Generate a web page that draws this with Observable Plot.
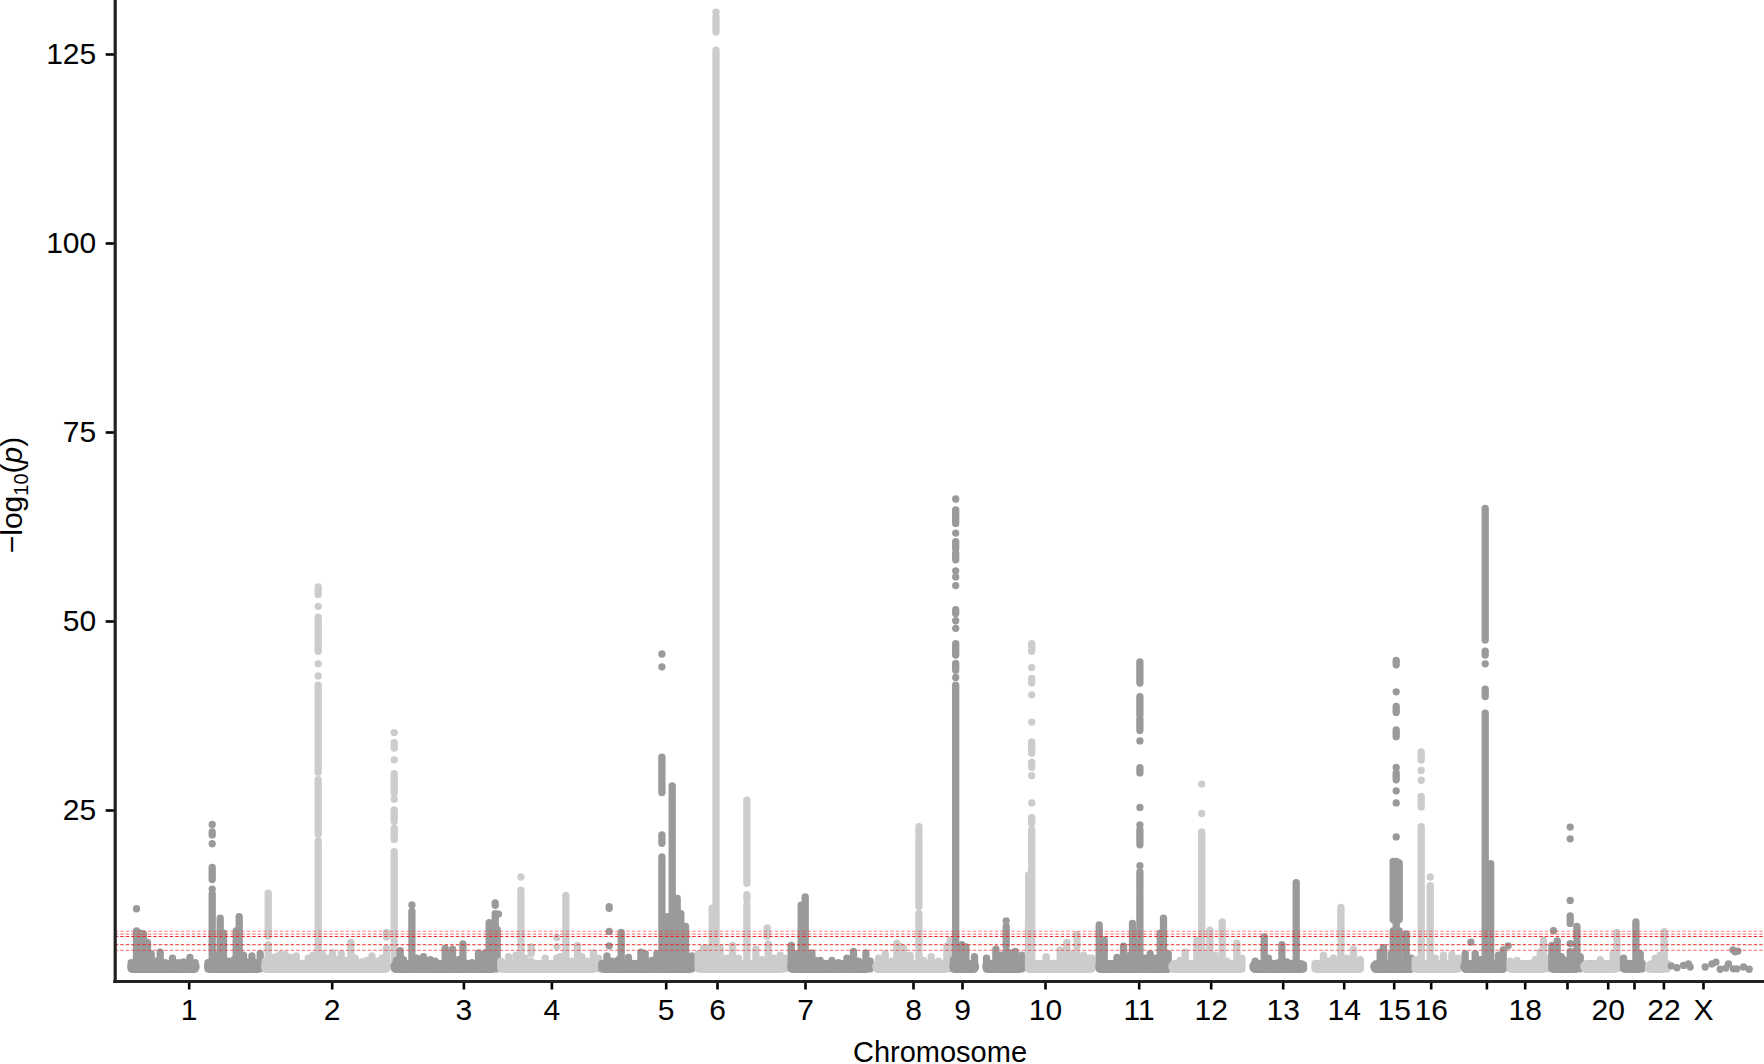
<!DOCTYPE html>
<html><head><meta charset="utf-8">
<style>html,body{margin:0;padding:0;background:#fff}svg{display:block}</style>
<script src="https://cdn.jsdelivr.net/npm/d3@7"></script>
<script src="https://cdn.jsdelivr.net/npm/@observablehq/plot@0.6"></script>
</head><body><div id="chart"></div>
<script>
const dark="#999a99", light="#cccccc";
const tickPos=[74,217,348.7,436.7,551,602.3,690.3,798.3,847.3,930.3,1024,1096,1168,1229,1279,1316,1371.7,1410,1452.3,1493,1519.3,1548.7,1588.3];
const tickLab=["1","2","3","4","5","6","7","8","9","10","11","12","13","14","15","16","","18","","20","","22","X"];
const yTicks=[25,50,75,100,125];
const faintLines=[9.03,8.64,6.5];
const strongLines=[8.33,7.25];

// each row: [position, low, high]; low===high is a single point
const chr1Base=[[19,78.5],[96,142]];
const chr1=[[16,4,4.8],[21.3,4,9],[21.3,12,12],[25,4,8.7],[28.3,4,8.6],[32.3,4,7.5],[36,4,6],[40,4,5],[45,4,6.2],[50,4,4.8],[57.3,4,5.4],[63.3,4,4.8],[68.3,4,4.9],[74.7,4,5.5],[80,4,4.8],
[92.7,4,4.8],[97,4,13.9],[97,14.6,14.6],[97,15.8,17.4],[97,20.6,20.6],[97,21.7,22.1],[97,23.15,23.15],[100,4,5.8],[105,4,10.7],[108.3,4,8.7],[113.3,4,5],[119,4,5.2],[121,4,9],[124,4,10.9],[128.3,4,5.8],[131.7,4,4.9],[136.7,4,5.7],[140,4,4.8],[145,4,6]];
const chr2Base=[[153,269]];
const chr2=[[150,4,5],[153,4,7.2],[153,8.3,14],[160,4,5.6],[165,4,5.9],[170,4,5.9],[175,4,5.5],[181,4,5.7],[186.7,4,4.7],[193,4,5.4],[198,4,5.8],
[203,4,20.9],[203,21.8,29],[203,30,41.5],[203,42.8,42.8],[203,44.4,44.4],[203,46,50.5],[203,52,52],[203,53.5,54.5],[207,4,6],[212,4,5.4],[217.3,4,6.1],[221.7,4,5.2],[226,4,6],[231,4,5.1],[235.7,4,7.5],[240,4,5.4],[246.7,4,4.9],[251.7,4,5.1],[256.7,4,5.7],[261.7,4,5],[266.7,4,5.4],[271.3,4,6.7],[271.3,8.2,8.8],
[279,4,19.5],[279,21.1,22.6],[279,23.5,25],[279,26.5,26.5],[279,27.2,29.8],[279,31.7,31.7],[279,33.2,33.9],[279,35.3,35.3]];
const chr3Base=[[282,376]];
const chr3=[[281.3,4,5.1],[285,4,6.4],[288.3,4,5.2],[296.7,4,11.6],[296.7,12.5,12.5],[301.7,4,5.4],[308.3,4,5.6],[315,4,5.2],[320,4,5],[325,4,4.7],[328.3,4,4.7],
[330,4,6.7],[332.7,4,6],[337.3,4,6.6],[343.3,4,5.2],[347.7,4,7.3],[351.7,4,4.7],[356.7,4,4.8],[363.3,4,6.1],[370,4,6.1],[374,4,10.1],[378,4,9.2],[380,4,11.3],[380,12.4,12.7],[383.3,11.3,11.3],[382,4,9.2]];
const chr4Base=[[389,477]];
const chr4=[[385.7,4,5],[393.3,4,5.6],[400.7,4,5.8],[405.7,4,14.4],[405.7,16.2,16.2],[410,4,5.4],[416,4,5],[416,6,6.9],[420,4,4.7],[430,4,5.4],[441.7,4,5.4],[441.7,7,7],[441.7,8.2,8.2],[445,4,5.6],[450.7,4,13.7],[456.7,4,5],[462.3,4,7.1],[466.7,4,5.6],[471.7,4,5],[478.3,4,6.1],[483.3,4,5.4]];
const chr5Base=[[490,574]];
const chr5=[[486.7,4,4.7],[491.7,4,5.7],[494,7.1,7.1],[494,9,9],[494,12,12.2],[496.7,4,5],[503.3,4,5.2],[506,4,8.8],[513.3,4,5.5],[520,4,4.7],[525.7,4,6.2],[530,4,6],[536.7,4,5.1],[541.7,4,6],
[546.7,4,18.8],[546.7,20.6,21.7],[546.7,27.3,32],[546.7,44,44],[546.7,45.7,45.7],[552,4,10.9],[557,4,28.2],[562,4,13.3],[565.6,4,11.3],[570.3,4,9.6],[576.7,4,5.7]];
const chr6Base=[[587,666]];
const chr6=[[583,4,6],[588.3,4,6.7],[594,4,6.8],[597,4,12],[600.8,4,125.5],[600.8,127.9,129.9],[600.8,130.6,130.6],[605,4,6.7],[611.7,4,5.4],[617.3,4,7.1],[623.3,4,5.4],
[631.7,4,12.4],[631.7,13.1,13.8],[631.7,15.3,20.4],[631.7,20.8,26.3],[640.7,4,6.6],[646.7,4,5.2],[652,8.3,9.4],[653,4,7.3],[658.3,4,5.4],[665,4,5.8],[670,4,5.4]];
const chr7Base=[[679,751]];
const chr7=[[676,4,7.1],[680,4,6],[686,4,12.4],[690,4,13.5],[693.3,4,6],[696.7,4,6.1],[700,4,5.1],[705,4,5.1],[710,4,4.7],[716.7,4,5.1],[723.3,4,4.8],[731.7,4,5.4],[738.3,4,6.3],[743.3,4,5],[750.7,4,6.1],[755,4,5]];
const chr8Base=[[764,829]];
const chr8=[[763.3,4,5.4],[770,4,6],[776.7,4,5],[781.7,4,7.4],[785,4,7],[788.3,4,6.7],[795,4,5.8],[803.7,4,11.3],[803.7,12.2,21.5],[803.7,22.1,22.8],[808.3,4,5.1],[816,4,5.6],[823.3,4,5],[831.7,4,7],[835,4,7.8]];
const chr9Base=[[841,858],[874,904]];
const chr9=[[838.3,4,5.2],[840.5,4,41.5],[840.5,42.6,42.6],[840.5,43.5,44.4],[840.5,45.5,47],[840.5,49.1,49.1],[840.5,50.1,50.1],[840.5,51,51.5],[840.5,54.75,54.75],[840.5,55.9,55.9],[840.5,56.7,56.7],[840.5,58.1,59],[840.5,59.6,60.5],[840.5,61.7,61.7],[840.5,62.9,64.7],[840.5,66.2,66.2],
[846.7,4,7.2],[850.7,4,6.9],[853.3,4,4.7],[859.3,4,5.6],[871.3,4,5.4],[876.7,4,4.7],[880.7,4,6.6],[885,4,5.8],[891,4,6.3],[891,7,9.6],[891,10.4,10.4],[893.3,4,6.2],[900,4,6.3],[906.7,4,5.8]];
const chr10Base=[[917,974]];
const chr10=[[913.3,4,10.2],[913.5,4,16.4],[916.5,4,22.4],[916.5,23.2,24],[916.5,26,26],[916.5,29.6,29.6],[916.5,30.65,31.3],[916.5,32.5,34],[916.5,36.7,36.7],[916.5,40.3,40.3],[916.5,41.8,42.4],[916.5,43.9,43.9],[916.5,46,47],
[923.3,4,4.7],[931,4,5.6],[938.3,4,4.7],[945,4,6.5],[951.7,4,7.5],[956.7,4,6],[961.7,4,6],[961.7,6.9,8.5],[968.3,4,5.8],[973.3,4,5.4],[976.7,4,5.4]];
const chr11Base=[[987,1052]];
const chr11=[[984,4,9.8],[989,4,7.8],[995,4,4.5],[1001.7,4,5.5],[1008.3,4,7],[1013.3,4,5.7],[1017.3,4,10],[1020.7,4,8.7],[1024.7,4,13.8],[1024.7,14.2,16.8],[1024.7,17.7,17.7],[1024.7,20.4,22.4],[1024.7,23.1,23.1],[1024.7,25.4,25.4],[1024.7,29.9,30.6],[1024.7,34.2,34.2],[1024.7,35.5,37],[1024.7,37.5,40],[1024.7,41.8,44.6],
[1030,4,5.4],[1035,4,6],[1040,4,5.4],[1045,4,8.7],[1048.3,4,10.7],[1053,4,6]];
const chr12Base=[[1060,1124]];
const chr12=[[1065,4,5.1],[1070,4,6.2],[1076.7,4,4.7],[1081.7,4,7.8],[1086.5,4,22.1],[1086.5,24.6,24.6],[1086.5,28.5,28.5],[1091,4,6],[1094.7,4,9.1],[1100,4,5.8],[1107,4,10.2],[1111.7,4,5],[1116.7,4,4.7],[1121.7,4,7.4],[1126.7,4,5.4]];
const chr13Base=[[1141,1186]];
const chr13=[[1140,4,5],[1149,4,8.2],[1153.3,4,5.4],[1158.3,4,4.7],[1163.3,4,4.8],[1166.7,4,7.2],[1171.7,4,4.9],[1176.7,4,4.7],[1181,4,15.4],[1188.3,4,4.5]];
const chr14Base=[[1203,1243]];
const chr14=[[1200,4,4.7],[1208.3,4,5.8],[1213.3,4,5],[1218.3,4,5.4],[1225.7,4,12.1],[1231.7,4,5.4],[1238.3,4,6.6],[1245,4,5.2]];
const chr15Base=[[1262,1295]];
const chr15=[[1260,4,4.5],[1265,4,6.2],[1268.3,4,6.8],[1276,4,6],[1278,4,9],[1278,10.5,18.2],[1284,4,9],[1284,10.5,18],[1281,4,18.2],[1281,21.5,21.5],[1281,26,26],[1281,27.6,27.6],[1281,29,29.9],[1281,30.7,30.7],[1281,34.7,35.6],[1281,37.9,38.7],[1281,40.7,40.7],[1281,44.2,44.8],[1291,4,8.6],[1296,4,5.4]];
const chr16Base=[[1304,1340]];
const chr16=[[1300,4,5.2],[1306,4,22.8],[1306,25.4,26.8],[1306,29,29],[1306,30.3,30.3],[1306,31.6,32.7],[1315,4,15],[1315,16.2,16.2],[1320,4,5.4],[1328.3,4,5.8],[1336.7,4,5.9],[1343,4,5.4]];
const chr17Base=[[1352,1387]];
const chr17=[[1350,4,6],[1355.7,7.6,7.6],[1360,4,6],[1365,4,5.2],[1370,4,37.8],[1370,40,41],[1370,44.4,44.4],[1370,45.5,46],[1370,47.5,64.9],[1375.5,4,17.9],[1383.3,4,5.8],[1388,4,6.5],[1393,7.1,7.1]];
const chr18Base=[[1398,1427]];
const chr18=[[1395,4,5],[1401.7,4,5.1],[1408,4,4.5],[1415,4,4.7],[1420,4,5.2],[1425,4,6.2],[1428.3,6.2,7.8],[1431.7,4,5.4]];
const chr19Base=[[1440,1460]];
const chr19=[[1436.7,4,7.1],[1438.3,9.1,9.1],[1442,4,7.7],[1446,4,5.6],[1448.3,4,5.2],[1455,4,6.3],[1455,7.4,7.4],[1455,10,11],[1455,13.1,13.1],[1455,21.25,21.25],[1455,22.8,22.8],[1461.7,4,9.6],[1465,4,5.6]];
const chr20Base=[[1472,1498]];
const chr20=[[1473,4,4.7],[1480,4,4.5],[1485,4,5.2],[1493,4,4.7],[1498,4,6],[1501.7,4,8.8]];
const chr21Base=[[1512,1523]];
const chr21=[[1508.3,4,5.4],[1513.3,4,4.7],[1520.7,4,10.2],[1525,4,6],[1527,4,4.7]];
const chr22Base=[[1537,1547]];
const chr22=[[1533.3,4,4.3],[1540,4,5.4],[1545,4,5.8],[1549,4,8.9],[1552,4,4.7]];
const chrXBase=[];
const chrX=[[1556,4.45,4.45],[1561.7,4.2,4.2],[1568.3,4.5,4.5],[1573.3,4.7,4.7],[1575,4.3,4.3],[1590,4.3,4.3],[1596.7,4.7,4.7],[1600.7,4.94,4.94],[1605,4,4],[1610.7,4.15,4.15],[1613.3,4.7,4.7],[1617.7,6.57,6.57],[1618.3,4.05,4.05],[1620,6.3,6.3],[1621.7,4.05,4.05],[1622.7,6.4,6.4],[1628.3,4.3,4.3],[1634,4,4]];

const order=[[chr1,chr1Base,dark],[chr2,chr2Base,light],[chr3,chr3Base,dark],[chr4,chr4Base,light],[chr5,chr5Base,dark],[chr6,chr6Base,light],[chr7,chr7Base,dark],[chr8,chr8Base,light],[chr9,chr9Base,dark],[chr10,chr10Base,light],[chr11,chr11Base,dark],[chr12,chr12Base,light],[chr13,chr13Base,dark],[chr14,chr14Base,light],[chr15,chr15Base,dark],[chr16,chr16Base,light],[chr17,chr17Base,dark],[chr18,chr18Base,light],[chr19,chr19Base,dark],[chr20,chr20Base,light],[chr21,chr21Base,dark],[chr22,chr22Base,light],[chrX,chrXBase,dark]];

const r=3.65;
const chrMarks=order.flatMap(([rows,base,c])=>[
  Plot.ruleY(base,{x1:d=>d[0],x2:d=>d[1],y:4.36,stroke:c,strokeWidth:13,strokeLinecap:"round"}),
  Plot.ruleX(rows.filter(d=>d[1]!==d[2]),{x:d=>d[0],y1:d=>d[1],y2:d=>d[2],stroke:c,strokeWidth:r*2,strokeLinecap:"round"}),
  Plot.dot(rows.filter(d=>d[1]===d[2]),{x:d=>d[0],y:d=>d[1],r:r,fill:c,stroke:"none"})
]);

const fmt=new Map(tickPos.map((p,i)=>[p,tickLab[i]]));
const svg=Plot.plot({
  width:1764,height:1064,marginTop:0,marginBottom:83,marginLeft:114.7,marginRight:0,
  style:{fontFamily:"'Liberation Sans',Arial,sans-serif",background:"#fff",color:"#000",overflow:"hidden"},
  x:{domain:[0,1649.3]},
  y:{domain:[2.38,132.14]},
  marks:[
    ...chrMarks,
    Plot.ruleY(faintLines,{stroke:"#f23a3a",strokeOpacity:0.6,strokeWidth:1.1,strokeDasharray:"3.5,2"}),
    Plot.ruleY(strongLines,{stroke:"#f01e1e",strokeOpacity:0.95,strokeWidth:1.1,strokeDasharray:"3.5,2"}),
    Plot.axisY({ticks:yTicks,tickSize:9,tickPadding:10,label:null,fontSize:30,stroke:"#000",strokeWidth:2.6,fill:"#000"}),
    Plot.axisX({ticks:tickPos,tickFormat:d=>fmt.get(d),tickSize:8.5,tickPadding:9,label:null,fontSize:30,stroke:"#000",strokeWidth:2.6,fill:"#000"}),
    Plot.ruleX([0],{stroke:"#222",strokeWidth:3.2}),
    Plot.ruleY([2.38],{stroke:"#222",strokeWidth:3.2,x1:-1.6,x2:1649.3})
  ]
});
document.getElementById("chart").appendChild(svg);
const s=d3.select(svg);
s.append("text").attr("x",940).attr("y",1062).attr("text-anchor","middle").attr("font-size",29).attr("fill","#000").text("Chromosome");
const yt=s.append("text").attr("transform","translate(22,495) rotate(-90)").attr("text-anchor","middle").attr("font-size",30).attr("fill","#000");
yt.append("tspan").text("\u2212log");
yt.append("tspan").attr("font-size",20).attr("dy",6).text("10");
yt.append("tspan").attr("dy",-6).text("(");
yt.append("tspan").attr("font-style","italic").text("p");
yt.append("tspan").text(")");
</script></body></html>
